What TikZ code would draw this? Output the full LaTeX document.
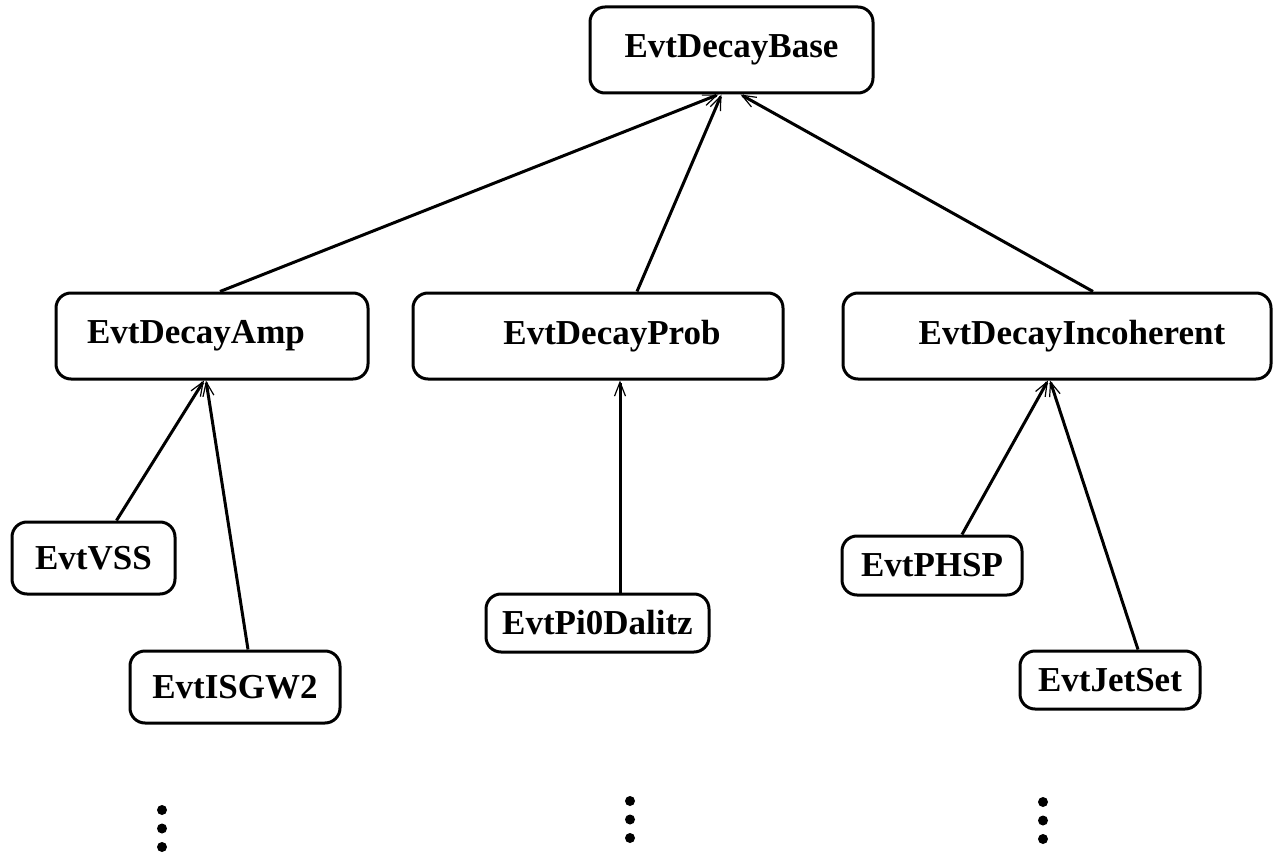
\documentclass[tikz,border=0pt]{standalone}
\usepackage{fontspec}
\setmainfont{Liberation Serif}
\usepackage{tikz}
\usetikzlibrary{positioning,arrows.meta}

\begin{document}
\begin{tikzpicture}[x=1pt,y=-1pt,
  cls/.style={draw=black,line width=3pt,rounded corners=15pt,inner sep=0pt,
    font=\bfseries\fontsize{35}{42}\selectfont,text=black},
  inherit/.style={line width=3pt,-{Straight Barb[length=14pt,width=11pt,line width=1.2pt]}}]
\useasboundingbox (0,0) rectangle (1274,853);
% top level
\node[cls,minimum width=283pt,minimum height=86pt] (base) at (731.5,50) {EvtDecayBase};
% second level
\node[cls,minimum width=312pt,minimum height=86pt] (amp) at (212,336) {EvtDecayAmp\hspace*{32pt}};
\node[cls,minimum width=370pt,minimum height=86pt] (prob) at (598,336) {\hspace*{28pt}EvtDecayProb};
\node[cls,minimum width=428pt,minimum height=86pt] (incoh) at (1057,336) {\hspace*{30pt}EvtDecayIncoherent};
% concrete models
\node[cls,minimum width=163pt,minimum height=72pt] (vss) at (93.5,558) {EvtVSS};
\node[cls,minimum width=210pt,minimum height=72pt] (isgw) at (235,687) {EvtISGW2};
\node[cls,minimum width=223pt,minimum height=58pt] (pidal) at (597.5,623) {EvtPi0Dalitz};
\node[cls,minimum width=180pt,minimum height=59pt] (phsp) at (932,565.5) {EvtPHSP};
\node[cls,minimum width=180pt,minimum height=58pt] (jetset) at (1110,680) {EvtJetSet};
% inheritance arrows
\draw[inherit] ([xshift=8pt]amp.north) -- ([xshift=-13pt]base.south);
\draw[inherit] ([xshift=39pt]prob.north) -- ([xshift=-10pt]base.south);
\draw[inherit] ([xshift=36pt]incoh.north) -- ([xshift=9pt]base.south);
\draw[inherit] ([xshift=23pt]vss.north) -- ([xshift=-8pt]amp.south);
\draw[inherit] ([xshift=13pt]isgw.north) -- ([xshift=-6pt]amp.south);
\draw[inherit] ([xshift=22.5pt]pidal.north) -- ([xshift=22pt]prob.south);
\draw[inherit] ([xshift=30pt]phsp.north) -- ([xshift=-9pt]incoh.south);
\draw[inherit] ([xshift=28pt]jetset.north) -- ([xshift=-7pt]incoh.south);
% more models
\foreach \x/\y in {162/810,630/801,1043/802}
  \foreach \k in {0,1,2}
    \fill (\x,\y+18.5*\k) circle (5pt);
\end{tikzpicture}
\end{document}
